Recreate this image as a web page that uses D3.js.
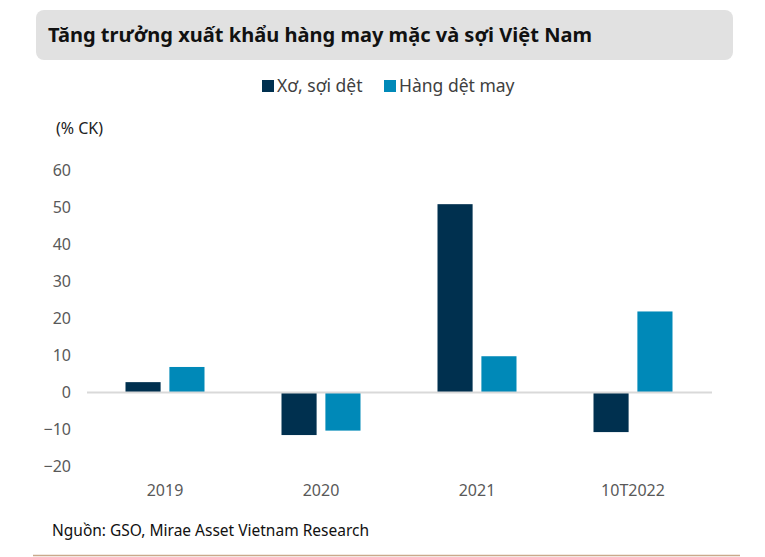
<!DOCTYPE html>
<html><head><meta charset="utf-8">
<script src="https://cdn.jsdelivr.net/npm/d3@7/dist/d3.min.js"></script>
<style>body{margin:0;background:#fff}svg{display:block;font-family:"Noto Sans","Open Sans",sans-serif}</style>
</head><body><svg id="c" width="765" height="557"></svg>
<script>
const title = "Tăng trưởng xuất khẩu hàng may mặc và sợi Việt Nam";
const categories = ["2019","2020","2021","10T2022"];
const seriesNames = ["Xơ, sợi dệt","Hàng dệt may"];
const xoSoiDet = [2.8, -11.5, 50.9, -10.7];
const hangDetMay = [6.9, -10.3, 9.8, 21.9];
const yTicks = [60,50,40,30,20,10,0,-10,-20];
const colors = ["#00304f","#0089b8"];
const unitLabel = "(% CK)";
const source = "Nguồn: GSO, Mirae Asset Vietnam Research";

const svg = d3.select("#c");
// title box
svg.append("rect").attr("x",36).attr("y",10).attr("width",697).attr("height",50).attr("rx",8).attr("fill","#e1e1e1");
svg.append("text").attr("x",48).attr("y",42).attr("font-size",20).attr("font-weight","bold").attr("fill","#111")
  .attr("textLength",544).attr("lengthAdjust","spacingAndGlyphs").text(title);

const x0 = d3.scaleBand().domain(categories).range([87,711]);
const x1 = d3.scaleBand().domain(seriesNames).range([x0.bandwidth()/2-39.5, x0.bandwidth()/2+39.5]).paddingInner(0.2);
const y = d3.scaleLinear().domain([-20,60]).range([466.5,170.5]);

// y axis labels
const yAxis = d3.axisLeft(y).tickValues(yTicks).tickSize(0).tickPadding(0).tickFormat(d3.format("d"));
const ga = svg.append("g").attr("transform","translate(71,0)").call(yAxis);
ga.select(".domain").remove();
ga.selectAll("text").attr("font-size",16).attr("fill","#595959").attr("font-family","Noto Sans");

svg.append("text").attr("x",56).attr("y",134).attr("font-size",16).attr("fill","#222").text(unitLabel);

// bars
const data = [xoSoiDet, hangDetMay];
seriesNames.forEach((s,i)=>{
  svg.append("g").selectAll("rect").data(categories).join("rect")
    .attr("x",c=>x0(c)+x1(s))
    .attr("width",x1.bandwidth())
    .attr("y",(c,j)=>y(Math.max(0,data[i][j])))
    .attr("height",(c,j)=>Math.abs(y(data[i][j])-y(0)))
    .attr("fill",colors[i]);
});
// zero line
svg.append("line").attr("x1",87).attr("x2",712).attr("y1",y(0)).attr("y2",y(0)).attr("stroke","#d9d9d9").attr("stroke-width",2);

// x axis labels
const xAxis = d3.axisBottom(x0).tickSize(0).tickPadding(0);
const gx = svg.append("g").attr("transform","translate(0,485)").call(xAxis);
gx.select(".domain").remove();
gx.selectAll("text").attr("font-size",16).attr("fill","#595959").attr("font-family","Noto Sans");

// legend
const legX = [262, 384];
seriesNames.forEach((s,i)=>{
  svg.append("rect").attr("x",legX[i]).attr("y",80).attr("width",12).attr("height",12).attr("fill",colors[i]);
  svg.append("text").attr("x",legX[i]+15).attr("y",92).attr("font-size",17.5).attr("fill","#404040").text(s);
});

// source
svg.append("text").attr("x",52).attr("y",536).attr("font-size",15.5).attr("fill","#111").text(source);
svg.append("line").attr("x1",33).attr("x2",740).attr("y1",555.5).attr("y2",555.5).attr("stroke","#c9a98c").attr("stroke-width",1.5);
</script></body></html>
